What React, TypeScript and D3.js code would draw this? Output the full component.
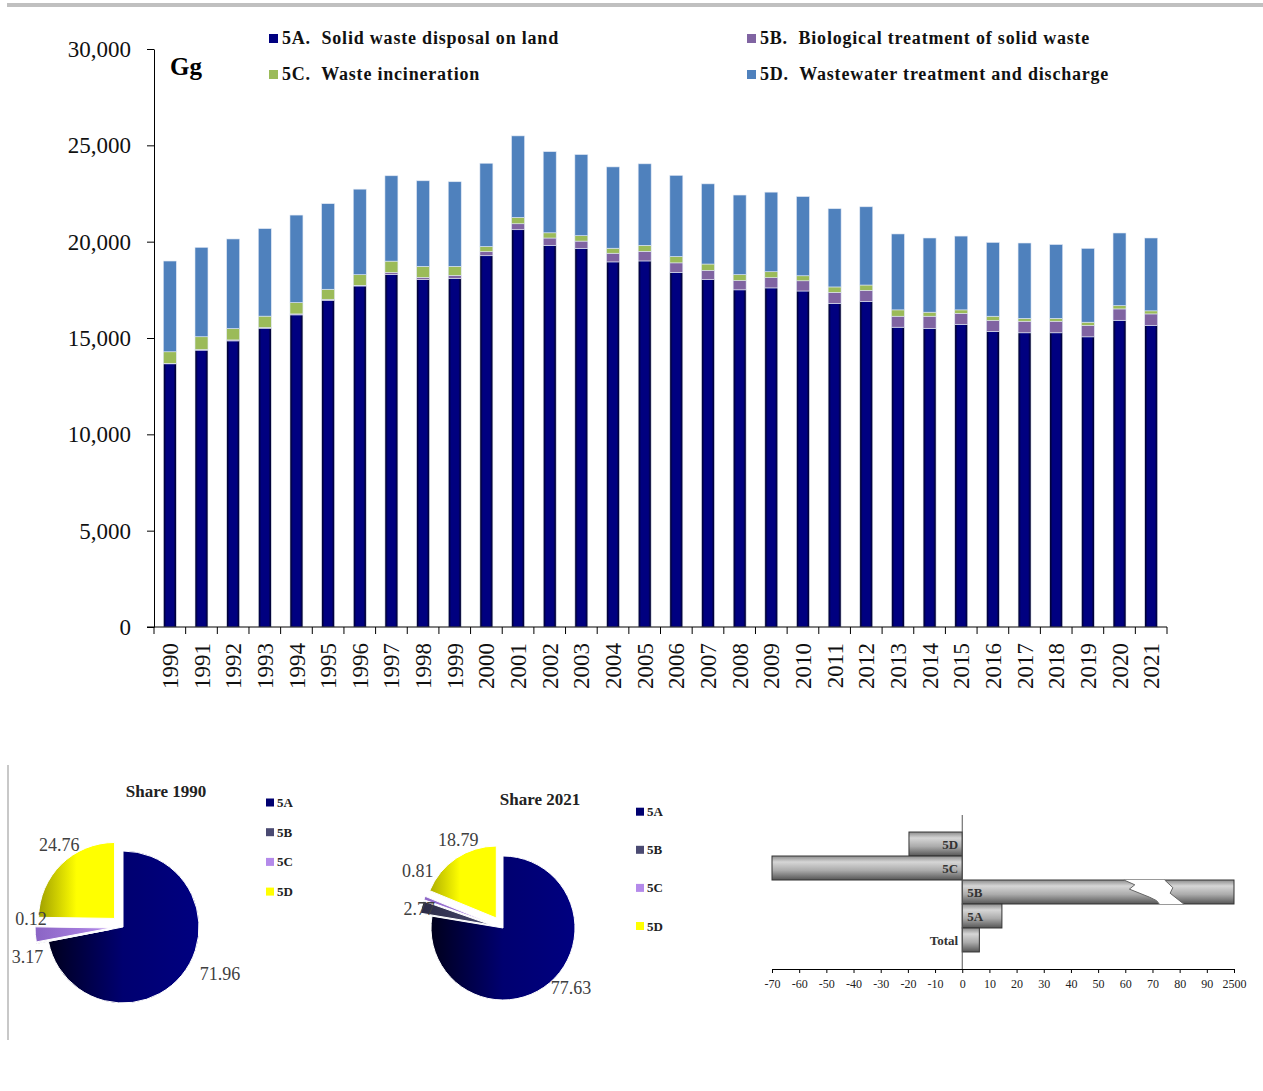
import React from 'react';
import * as d3 from 'd3';

const FONT = '"Liberation Serif", "Times New Roman", serif';

// ---- main stacked chart data (Gg) ----
const years = ['1990', '1991', '1992', '1993', '1994', '1995', '1996', '1997', '1998', '1999', '2000', '2001', '2002', '2003', '2004', '2005', '2006', '2007', '2008', '2009', '2010', '2011', '2012', '2013', '2014', '2015', '2016', '2017', '2018', '2019', '2020', '2021'];
const s5A = [13660, 14370, 14850, 15510, 16200, 16960, 17700, 18300, 18030, 18100, 19270, 20620, 19810, 19650, 18950, 19000, 18410, 18030, 17500, 17600, 17440, 16800, 16900, 15560, 15490, 15710, 15340, 15270, 15270, 15060, 15920, 15650];
const s5B = [25, 35, 50, 35, 50, 50, 35, 100, 120, 150, 210, 310, 380, 380, 450, 500, 490, 480, 480, 530, 530, 570, 570, 570, 640, 570, 570, 600, 600, 590, 590, 600];
const s5C = [600, 660, 590, 590, 590, 520, 550, 590, 570, 470, 270, 330, 270, 280, 260, 310, 330, 330, 310, 310, 260, 280, 280, 330, 210, 180, 220, 150, 150, 170, 170, 160];
const s5D = [4710, 4640, 4650, 4540, 4540, 4440, 4440, 4430, 4440, 4390, 4320, 4230, 4210, 4210, 4220, 4230, 4210, 4160, 4130, 4130, 4110, 4060, 4060, 3940, 3850, 3830, 3830, 3910, 3830, 3830, 3770, 3780];
const seriesKeys = ['5A', '5B', '5C', '5D'];
const seriesNames = ['5A.  Solid waste disposal on land', '5B.  Biological treatment of solid waste', '5C.  Waste incineration', '5D.  Wastewater treatment and discharge'];
const seriesColors = ['#000080', '#8064A2', '#9BBB59', '#4F81BD'];
const yTicks = [0, 5000, 10000, 15000, 20000, 25000, 30000];

// ---- pie data (%) ----
const pieCats = ['5A', '5B', '5C', '5D'];
const share1990 = [71.96, 0.12, 3.17, 24.76];
const share2021 = [77.63, 2.77, 0.81, 18.79];
const pieColors = [
  ['#00001c', '#000070', '#000080'],
  ['#2a2a44', '#4a4a72', '#5c5c88'],
  ['#8a64c4', '#b48aea', '#cc9cff'],
  ['#a0a000', '#ffff00', '#ffff00'],
];
const pieMid = [0.5, 0.5, 0.5, 0.25];

// ---- change 1990-2021 (%) ----
const changeCats = ['5D', '5C', '5B', '5A', 'Total'];
const changeVals = [-19.6, -70.3, 2500, 14.6, 6.3];
const changeTicks = [-70, -60, -50, -40, -30, -20, -10, 0, 10, 20, 30, 40, 50, 60, 70, 80, 90, 100];

function StackedChart() {
  const x = d3.scaleBand().domain(years).range([154, 1167]).paddingInner(0.59).paddingOuter(0.295);
  const y = d3.scaleLinear().domain([0, 30000]).range([627, 49]);
  const rows = years.map((yr, i) => ({ year: yr, '5A': s5A[i], '5B': s5B[i], '5C': s5C[i], '5D': s5D[i] }));
  const stacked = d3.stack<any>().keys(seriesKeys)(rows);
  const yAxis = d3.axisLeft(y).tickValues(yTicks).tickSize(7).tickPadding(16).tickSizeOuter(0).tickFormat(d3.format(','));
  const x0 = x.range()[0];
  const boundaries = d3.range(years.length + 1).map(i => x0 + i * x.step());

  return (
    <g>
      <defs>
        <linearGradient id="bar5A" x1="0" x2="1" y1="0" y2="0">
          <stop offset="0" stopColor="#00001e" />
          <stop offset="0.22" stopColor="#000080" />
          <stop offset="0.78" stopColor="#000080" />
          <stop offset="1" stopColor="#00001e" />
        </linearGradient>
      </defs>
      {stacked.map((layer, li) => (
        <g key={layer.key}>
          {layer.map((d, i) => (
            <rect key={i} x={x(years[i])} width={x.bandwidth()} y={y(d[1])} height={Math.max(0, y(d[0]) - y(d[1]))}
              fill={li === 0 ? 'url(#bar5A)' : seriesColors[li]} stroke="#dfe7f3" strokeWidth={0.6} />
          ))}
        </g>
      ))}
      <g transform="translate(154,0)" ref={node => { if (node) { d3.select(node).call(yAxis).attr('font-family', FONT).attr('font-size', 23).selectAll('text').attr('fill', '#111'); } }} />
      <line x1={147} x2={1167} y1={627} y2={627} stroke="#000" />
      {boundaries.map((b, i) => <line key={i} x1={b} x2={b} y1={627} y2={634} stroke="#000" />)}
      {years.map(yr => (
        <text key={yr} transform={`translate(${x(yr)! + x.bandwidth() / 2},643) rotate(-90)`} textAnchor="end" dy="0.35em"
          fontFamily={FONT} fontSize={23} fill="#111">{yr}</text>
      ))}
      <text x={170} y={75} fontFamily={FONT} fontSize={25} fontWeight="bold">Gg</text>
      {seriesNames.map((name, i) => {
        const lx = i === 0 || i === 2 ? 269 : 747;
        const ly = i < 2 ? 34 : 70;
        return (
          <g key={name}>
            <rect x={lx} y={ly} width={9} height={9} fill={seriesColors[i]} />
            <text x={lx + 13} y={ly + 9.5} fontFamily={FONT} fontSize={18} fontWeight="bold" letterSpacing={0.8}
              style={{ whiteSpace: 'pre' }} fill="#111">{name}</text>
          </g>
        );
      })}
    </g>
  );
}

function PieChart({ id, cx, cy, r, values, title, titleX, titleY, legendX, legendY0, legendStep, labelOffsets }: any) {
  const arcs = d3.pie<number>().sort(null).value(d => d)(values);
  const arc = d3.arc<d3.PieArcDatum<number>>().innerRadius(0).outerRadius(r);
  const explode = [0, 12, 12, 12];
  return (
    <g>
      <defs>
        {pieColors.map((c, i) => (
          <linearGradient key={i} id={`${id}-${i}`} gradientUnits="userSpaceOnUse" x1={-r} x2={r} y1={0} y2={0}>
            <stop offset="0" stopColor={c[0]} />
            <stop offset={pieMid[i]} stopColor={c[1]} />
            <stop offset="1" stopColor={c[2]} />
          </linearGradient>
        ))}
      </defs>
      <text x={titleX} y={titleY} textAnchor="middle" fontFamily={FONT} fontSize={17} fontWeight="bold" fill="#222">{title}</text>
      <g transform={`translate(${cx},${cy})`}>
        {arcs.map((d, i) => {
          const a = (d.startAngle + d.endAngle) / 2;
          const dx = Math.sin(a) * explode[i];
          const dy = -Math.cos(a) * explode[i];
          return <path key={i} transform={`translate(${dx},${dy})`} d={arc(d) || ''} fill={`url(#${id}-${i})`} stroke="#fff" strokeWidth={1} />;
        })}
        {arcs.map((d, i) => {
          const a = (d.startAngle + d.endAngle) / 2;
          const lr = r + 20 + explode[i];
          const lx = Math.sin(a) * lr + labelOffsets[i][0];
          const ly = -Math.cos(a) * lr + labelOffsets[i][1];
          return <text key={i} x={lx} y={ly} dy="0.35em" textAnchor="middle" fontFamily={FONT} fontSize={18} fill="#404040">{values[i].toFixed(2)}</text>;
        })}
      </g>
      {pieCats.map((c, i) => (
        <g key={c}>
          <rect x={legendX} y={legendY0 + i * legendStep - 4} width={8} height={8} fill={pieColors[i][1]} />
          <text x={legendX + 11} y={legendY0 + i * legendStep + 4.5} fontFamily={FONT} fontSize={13} fontWeight="bold" fill="#222">{c}</text>
        </g>
      ))}
    </g>
  );
}

function ChangeChart() {
  const x = d3.scaleLinear().domain([-70, 100]).range([772, 1234]);
  const y = d3.scaleBand().domain(changeCats).range([815, 969]).paddingInner(0).paddingOuter(0.71);
  const axis = d3.axisBottom(x).tickValues(changeTicks).tickSize(4).tickPadding(6).tickSizeOuter(0)
    .tickFormat(v => (v === 100 ? '2500' : String(v)));
  const clampV = (v: number) => Math.max(-70, Math.min(100, v));
  const bw = y.bandwidth();
  const bY = y('5B')!;
  const brkLeft = [[59.5, 0], [63.5, 0.2], [61.5, 0.38], [69, 0.72], [71.5, 0.86], [72.5, 1]];
  const brkRight = [[74.5, 0], [77.5, 0.32], [76.5, 0.55], [81.5, 1]];
  const pts = (arr: number[][]) => arr.map(p => `${x(p[0])},${bY + p[1] * bw}`).join(' ');
  return (
    <g>
      <defs>
        <linearGradient id="hbar" x1="0" x2="0" y1="0" y2="1">
          <stop offset="0" stopColor="#8c8c8c" />
          <stop offset="0.25" stopColor="#d6d6d6" />
          <stop offset="0.6" stopColor="#ababab" />
          <stop offset="1" stopColor="#555" />
        </linearGradient>
      </defs>
      {changeCats.map((c, i) => {
        const v = clampV(changeVals[i]);
        const x1 = Math.min(x(0), x(v));
        const w = Math.abs(x(v) - x(0));
        const left = changeVals[i] < 0 || w < 25;
        return (
          <g key={c}>
            <rect x={x1} y={y(c)} width={w} height={bw} fill="url(#hbar)" stroke="#333" strokeWidth={1} />
            <text x={left ? x(0) - 4 : x(0) + 5} y={y(c)! + bw / 2} dy="0.35em" textAnchor={left ? 'end' : 'start'}
              fontFamily={FONT} fontSize={13} fontWeight="bold" fill="#333">{c}</text>
          </g>
        );
      })}
      <polygon points={pts([...brkLeft, ...brkRight.slice().reverse()])} fill="#fff" />
      <polyline points={pts(brkLeft)} fill="none" stroke="#666" strokeWidth={1} />
      <polyline points={pts(brkRight)} fill="none" stroke="#666" strokeWidth={1} />
      <line x1={x(0)} x2={x(0)} y1={815} y2={969} stroke="#555" strokeWidth={1} />
      <g transform="translate(0,969)" ref={node => { if (node) { d3.select(node).call(axis).attr('font-family', FONT).attr('font-size', 12).selectAll('text').attr('fill', '#222'); } }} />
    </g>
  );
}

export default function App() {
  return (
    <svg width={1263} height={1091} style={{ position: 'absolute', left: 0, top: 0, background: '#fff' }}>
      <rect x={7} y={3} width={1256} height={4} fill="#c0c0c0" />
      <StackedChart />
      <line x1={8} x2={8} y1={765} y2={1040} stroke="#c8c8c8" strokeWidth={2} />
      <PieChart id="p1990" cx={123} cy={927} r={76} values={share1990} title="Share 1990" titleX={166} titleY={797}
        legendX={266} legendY0={802.5} legendStep={29.7}
        labelOffsets={[[23, -14], [14, -28], [12, 21], [12, -5]]} />
      <PieChart id="p2021" cx={503} cy={928} r={72} values={share2021} title="Share 2021" titleX={540} titleY={805}
        legendX={636} legendY0={811.7} legendStep={38.1}
        labelOffsets={[[8.5, -11], [17, 7], [12, -20], [13, -2]]} />
      <ChangeChart />
    </svg>
  );
}
